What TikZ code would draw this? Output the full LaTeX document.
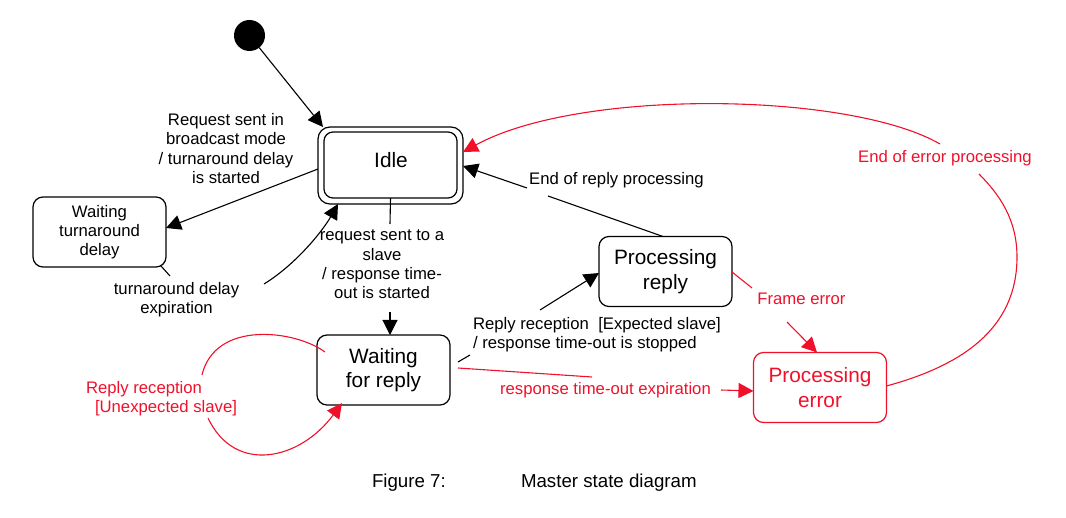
\documentclass[tikz,border=0pt]{standalone}
\usepackage{fontspec}
\setmainfont{Liberation Sans}
\usetikzlibrary{arrows.meta,calc}
\definecolor{errred}{HTML}{F0102A}

\begin{document}
\begin{tikzpicture}[x=1pt,y=-1pt,
  every node/.style={inner sep=0pt, outer sep=0pt},
  lbl/.style={font=\fontsize{16.7}{19.3}\selectfont, align=center},
  lbll/.style={font=\fontsize{16.7}{19.3}\selectfont, align=left},
  stname/.style={font=\fontsize{20.8}{24.5}\selectfont, align=center},
  statebox/.style={draw, rounded corners=10pt, line width=1.2pt,
    minimum width=133pt, minimum height=70pt},
  link/.style={line width=1.1pt},
  arr/.style={link, -{Triangle[length=15pt,width=15pt]}},
  captxt/.style={font=\fontsize{18.7}{22}\selectfont, anchor=base west}]

\useasboundingbox (0,0) rectangle (1066,518);

% ---- states ----
\node[circle, fill=black, minimum size=31pt] (init) at (249.5,35.5) {};
\node[draw, rounded corners=12pt, line width=1.2pt,
      minimum width=145pt, minimum height=77pt] (idle) at (390.5,165.5) {};
\node[draw, rounded corners=9pt, line width=1.2pt,
      minimum width=133pt, minimum height=66pt] (idlein) at (390.5,165) {};
\node[stname] (idletext) at (391,160.5) {Idle};

\node[statebox, lbl] (waitta) at (99.5,232) {Waiting\\turnaround\\delay};
\node[statebox, stname] (waitrep) at (383.5,370) {Waiting\\for reply};
\node[statebox, stname] (procrep) at (665.5,271.5) {Processing\\reply};
\node[statebox, stname, draw=errred, text=errred] (procerr) at (820,387.5) {Processing\\error};

% ---- initial transition ----
\draw[arr] (init) -- ([xshift=5pt]idle.north west);

% ---- broadcast request ----
\draw[arr] ([yshift=-3.5pt]idle.west) -- ([yshift=4pt]waitta.east);
\node[lbl] (lreqbc) at (226,148.5) {Request sent in\\broadcast mode\\/ turnaround delay\\is started};

% ---- turnaround delay expiration ----
\coordinate (te1) at (170,276);
\coordinate (te2) at (264,284);
\draw[link] ([xshift=-5pt,yshift=1pt]waitta.south east) -- (te1);
\node[lbl] (lte) at (176.5,300) {turnaround delay\\expiration};
\draw[arr] (te2) .. controls (295,265) and (322,232) .. ([xshift=20pt]idle.south west);

% ---- request to a slave ----
\coordinate (rs1) at (390,224);
\coordinate (rs2) at (390,312);
\draw[link] (idlein.south) -- (rs1);
\node[lbl] (lrs) at (382,264.5) {request sent to a\\slave\\/ response time-\\out is started};
\draw[arr] (rs2) -- (rs2 |- waitrep.north);

% ---- reply from the expected slave ----
\coordinate (re1) at (458,362);
\coordinate (re2) at (470,355);
\coordinate (re3) at (540,310);
\draw[link] (re1) -- (re2);
\node[lbll, anchor=west] (lre) at (473,335) {Reply reception\ \ [Expected slave]\\/ response time-out is stopped};
\draw[arr] (re3) -- ([yshift=-1.5pt]procrep.west);

% ---- response time-out ----
\coordinate (to1) at (458,368);
\coordinate (to2) at (592,377);
\coordinate (to3) at (721,390);
\draw[link, errred] (to1) -- (to2);
\node[lbl, text=errred] (lto) at (605.5,390.5) {response time-out expiration};
\draw[arr, errred] (to3) -- ([yshift=-3.5pt]procerr.west);

% ---- end of reply processing ----
\coordinate (er1) at (548,196);
\coordinate (er2) at (527,188);
\draw[link] ([xshift=-2.5pt]procrep.north) -- (er1);
\node[lbl] (ler) at (616.5,180) {End of reply processing};
\draw[arr] (er2) -- ([yshift=-0.5pt]idle.east);

% ---- frame error ----
\coordinate (fe1) at (752,288);
\coordinate (fe2) at (787,322);
\draw[link, errred] ([yshift=-0.5pt]procrep.east) -- (fe1);
\node[lbl, text=errred] (lfe) at (801.5,299) {Frame error};
\draw[arr, errred] (fe2) -- ([xshift=-3pt]procerr.north);

% ---- end of error processing ----
\coordinate (ee1) at (979,174);
\coordinate (ee2) at (940,144);
\draw[link, errred] ([yshift=1.5pt]procerr.east)
  .. controls (960,366) and (1017,330) .. (1017,257)
  .. controls (1017,220) and (1000,195) .. (ee1);
\node[lbl, text=errred] (lee) at (945,158.5) {End of error processing};
\draw[arr, errred] (ee2) .. controls (850,92) and (580,88) .. ([yshift=13.5pt]idle.east);

% ---- reply from an unexpected slave ----
\coordinate (us1) at (202,375);
\coordinate (us2) at (208,418);
\draw[link, errred] ([xshift=8pt,yshift=-17pt]waitrep.north west)
  .. controls (295,330) and (215,320) .. (us1);
\node[lbll, text=errred, anchor=west] (lus) at (86,399) {Reply reception\\\hspace*{9pt}[Unexpected slave]};
\draw[arr, errred] (us2) .. controls (235,475) and (300,460) .. ([xshift=25pt,yshift=2pt]waitrep.south west);

% ---- caption ----
\node[captxt] (fignum) at (372,488) {Figure 7:};
\node[captxt] (figtitle) at (521,488) {Master state diagram};

\end{tikzpicture}
\end{document}
